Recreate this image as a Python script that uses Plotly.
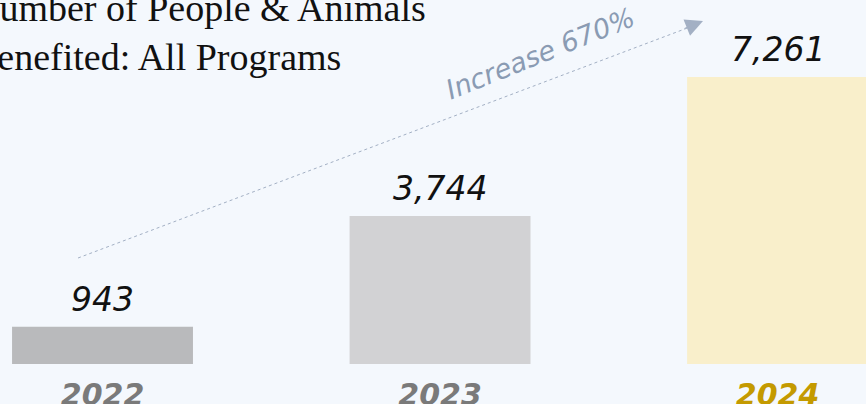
import plotly.graph_objects as go

years = ["2022", "2023", "2024"]
people_animals = [943, 3744, 7261]
bar_colors = ["#B9BABC", "#D2D2D4", "#F9EFCB"]
tick_colors = ["#7A7A7A", "#7A7A7A", "#C49A00"]
title_lines = ["Number of People &amp; Animals", "Benefited: All Programs"]
increase_label = "Increase 670%"

BG = "#F4F8FD"
HAND = "DejaVu Sans"

fig = go.Figure()
fig.add_trace(go.Bar(
    x=years,
    y=people_animals,
    marker=dict(color=bar_colors, line=dict(width=0)),
    width=0.536,
    cliponaxis=False,
    hoverinfo="skip",
))

# value labels above bars (category serial index used for x)
for i, v in enumerate(people_animals):
    fig.add_annotation(
        x=i, y=v, xref="x", yref="y", yanchor="bottom", yshift=6,
        text=f"{v:,}", showarrow=False,
        font=dict(family=HAND, size=33, color="#111111", style="italic"),
    )

fig.update_layout(
    width=866, height=404,
    margin=dict(l=0, r=0, t=0, b=40, autoexpand=False),
    paper_bgcolor=BG, plot_bgcolor=BG,
    showlegend=False,
    xaxis=dict(
        type="category",
        range=[-0.3037, 2.262],
        tickmode="array",
        tickvals=years,
        ticktext=[f"<b><i><span style='color:{c}'>{y}</span></i></b>" for y, c in zip(years, tick_colors)],
        tickfont=dict(family=HAND, size=30),
        showgrid=False, zeroline=False, showline=False, ticks="",
        ticklabelstandoff=10, automargin=False,
    ),
    yaxis=dict(range=[0, 9209], visible=False, automargin=False),
)

# Title (cropped at left edge in reference)
fig.add_annotation(
    xref="paper", yref="paper", x=-0.035, y=1.041, xanchor="left", yanchor="top",
    text="<br>".join(title_lines), showarrow=False, align="left",
    font=dict(family="Liberation Serif", size=38, color="#111111"),
)

# Dotted trend line with arrowhead
x0, y0, x1, y1 = 0.0901, 0.2912, 0.8118, 0.9423
fig.add_shape(type="line", xref="paper", yref="paper", x0=x0, y0=y0, x1=x1 - 0.01, y1=y1 - 0.012,
              line=dict(color="#A3B0C4", width=1, dash="dot"))
fig.add_annotation(
    xref="paper", yref="paper", x=x1, y=y1, ax=-20, ay=8,
    showarrow=True, arrowhead=2, arrowsize=3.5, arrowwidth=1, arrowcolor="#A3B0C4", text="",
)
fig.add_annotation(
    xref="paper", yref="paper", x=0.6236, y=0.853, xanchor="center", yanchor="middle",
    text=increase_label, showarrow=False,
    textangle=-22, font=dict(family=HAND, size=27, color="#8A9BB3", style="italic"),
)

fig.write_html("out.html", config={"displayModeBar": False},
               post_script="document.body.style.margin='0';")
